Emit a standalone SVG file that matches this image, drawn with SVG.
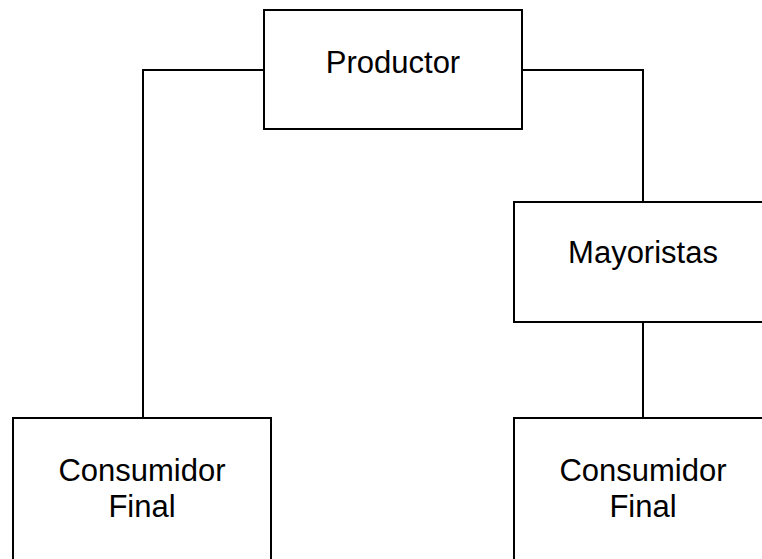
<svg xmlns="http://www.w3.org/2000/svg" width="762" height="559" viewBox="0 0 762 559">
<style>
.box{fill:#fff;stroke:#000;stroke-width:2}
.lbl{font-family:"Liberation Sans",Arial,sans-serif;font-size:31px;fill:#000;text-anchor:middle}
.conn{fill:none;stroke:#000;stroke-width:2}
</style>
<rect width="762" height="559" fill="#fff"/>
<g id="connectors">
<polyline class="conn" points="264,70 143,70 143,418"/>
<polyline class="conn" points="522,70 643,70 643,202"/>
<line class="conn" x1="643" y1="322" x2="643" y2="418"/>
</g>
<g id="productor">
<rect class="box" x="264" y="10" width="258" height="119"/>
<text class="lbl" x="393" y="73">Productor</text>
</g>
<g id="mayoristas">
<rect class="box" x="514" y="202" width="258" height="120"/>
<text class="lbl" x="643" y="263">Mayoristas</text>
</g>
<g id="consumidor1">
<rect class="box" x="13" y="418" width="258" height="160"/>
<text class="lbl" x="142" y="481">Consumidor</text>
<text class="lbl" x="142" y="517">Final</text>
</g>
<g id="consumidor2">
<rect class="box" x="514" y="418" width="258" height="160"/>
<text class="lbl" x="643" y="481">Consumidor</text>
<text class="lbl" x="643" y="517">Final</text>
</g>
</svg>
